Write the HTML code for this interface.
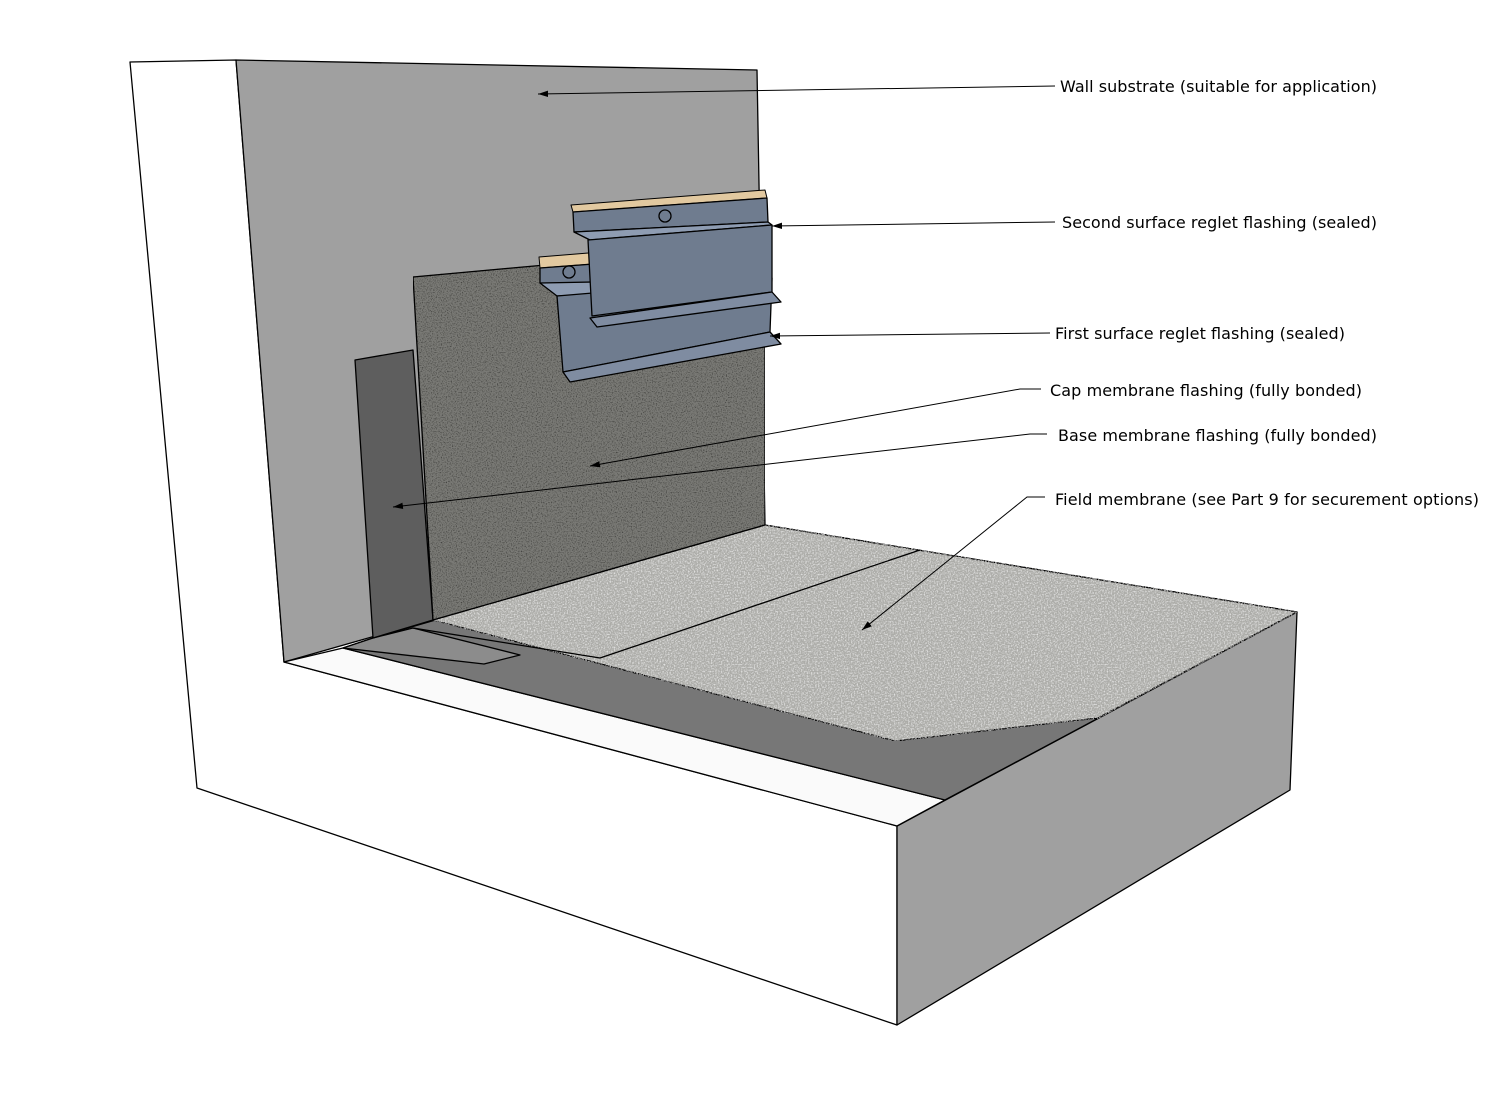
<!DOCTYPE html>
<html><head><meta charset="utf-8"><style>
html,body{margin:0;padding:0;background:#fff;}
svg{display:block}
text{font-family:"DejaVu Sans","Liberation Sans",sans-serif;font-size:16px;fill:#000}
</style></head><body>
<svg width="1500" height="1100" viewBox="0 0 1500 1100" xmlns="http://www.w3.org/2000/svg">
<defs>
<filter id="tex" x="0" y="0" width="100%" height="100%">
<feTurbulence type="fractalNoise" baseFrequency="0.8" numOctaves="2" seed="3" result="n"/>
<feColorMatrix in="n" type="matrix" values="0 0 0 0 0  0 0 0 0 0  0 0 0 0 0  0 0 0 -2 1.1" result="a"/>
<feComposite in="a" in2="SourceGraphic" operator="in" result="d"/>
<feMerge><feMergeNode in="SourceGraphic"/><feMergeNode in="d"/></feMerge>
</filter>
<filter id="tex2" x="0" y="0" width="100%" height="100%">
<feTurbulence type="fractalNoise" baseFrequency="0.7" numOctaves="2" seed="7" result="n"/>
<feColorMatrix in="n" type="matrix" values="0 0 0 0 1  0 0 0 0 1  0 0 0 0 1  0 0 0 -1.6 0.9" result="a"/>
<feComposite in="a" in2="SourceGraphic" operator="in" result="d"/>
<feMerge><feMergeNode in="SourceGraphic"/><feMergeNode in="d"/></feMerge>
</filter>
<marker id="ar" markerWidth="10" markerHeight="8" refX="10" refY="4" orient="auto" markerUnits="userSpaceOnUse">
<path d="M10,4 L0,0.8 L0,7.2 Z" fill="#000"/></marker>
</defs>
<g stroke="#000" stroke-width="1.3" stroke-linejoin="round">
<polygon points="130,62 236,60 284,662 897,826 897,1025 197,788" fill="#fff"/>
<polygon points="897,826 1297,612 1290,790 897,1025" fill="#a0a0a0"/>
<polygon points="236,60 757,70 765,525 284,662" fill="#a0a0a0"/>
<polygon points="284,662 343,648 945,800 897,826" fill="#fafafa"/>
<polygon points="343,648 373,638 765,525 1297,612 945,800" fill="#777777"/>
<polygon points="373,638 413,628 520,655 484,664 343,648" fill="#8c8c8c"/>
<polygon points="355,360 413,350 433,620 373,638" fill="#5e5e5e"/>
<polygon points="433,620 765,525 1297,612 1098,718 895,741" fill="#acaca8" filter="url(#tex2)"/>
<polyline points="413,628 600,658 920,550" fill="none"/>
<polygon points="413,277 765,245 765,525 433,620" fill="#7a7a76" filter="url(#tex)"/>
<!-- first reglet -->
<polygon points="539,257 700,244 700,256 540,268" fill="#e2c9a0" stroke-width="1"/>
<polygon points="540,268 700,256 702,300 540,283" fill="#6f7c8f"/>
<polygon points="540,283 557,296 700,290 700,280" fill="#8e9cb2"/>
<polygon points="557,296 772,278 770,332 563,372" fill="#6f7c8f"/>
<polygon points="563,372 770,332 781,344 570,382" fill="#7f8ca1"/>
<!-- second reglet -->
<polygon points="571,205 765,190 767,198 573,212" fill="#e2c9a0" stroke-width="1"/>
<polygon points="573,212 767,198 768,222 574,232" fill="#6f7c8f"/>
<polygon points="574,232 590,240 772,225 768,222" fill="#8e9cb2"/>
<polygon points="588,240 772,225 772,292 592,316" fill="#6f7c8f"/>
<polygon points="590,318 772,292 781,302 597,327" fill="#7f8ca1"/>
<circle cx="665" cy="216" r="6" fill="#6f7c8f"/>
<circle cx="569" cy="272" r="6" fill="#6f7c8f"/>
</g>
<g stroke="#000" stroke-width="1" fill="none">
<line x1="1055" y1="86" x2="538" y2="94" marker-end="url(#ar)"/>
<line x1="1055" y1="222" x2="772" y2="226" marker-end="url(#ar)"/>
<line x1="1050" y1="333" x2="770" y2="336" marker-end="url(#ar)"/>
<polyline points="1041,389 1020,389 590,466" marker-end="url(#ar)"/>
<polyline points="1047,434 1030,434 393,507" marker-end="url(#ar)"/>
<polyline points="1045,497 1027,497 862,630" marker-end="url(#ar)"/>
</g>
<text x="1060" y="92" textLength="317">Wall substrate (suitable for application)</text>
<text x="1062" y="228" textLength="315">Second surface reglet flashing (sealed)</text>
<text x="1055" y="339" textLength="290">First surface reglet flashing (sealed)</text>
<text x="1050" y="396" textLength="312">Cap membrane flashing (fully bonded)</text>
<text x="1058" y="441" textLength="319">Base membrane flashing (fully bonded)</text>
<text x="1055" y="505" textLength="424">Field membrane (see Part 9 for securement options)</text>
</svg>
</body></html>
